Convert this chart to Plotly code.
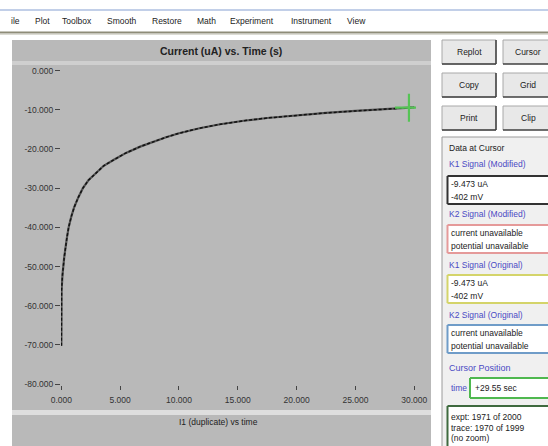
import plotly.graph_objects as go

# ---------------- data ----------------
time_s = [0, 0, 0.02, 0.1, 0.25, 0.48, 0.62, 0.85, 1.1, 1.45, 1.83, 2.3, 2.87, 3.6, 4.5,
          5.0, 5.5, 6.7, 8.0, 8.9, 10.0, 11.75, 13.5, 15.5, 17.5, 20.0, 22.5, 25.0, 27.5, 29.55, 30.0]
current_uA = [-70.2, -63, -56, -52, -47.5, -42.5, -40, -37.2, -34.8, -32.3, -30, -28, -26.3,
              -24.3, -22.7, -21.8, -21.0, -19.4, -17.9, -17.0, -16.0, -14.7, -13.7, -12.8,
              -12.1, -11.4, -10.8, -10.3, -9.85, -9.47, -9.4]
cursor_t = [29.55]
cursor_i = [-9.47]

x_ticks = [0, 5, 10, 15, 20, 25, 30]
x_ticklabels = ["0.000", "5.000", "10.000", "15.000", "20.000", "25.000", "30.000"]
y_ticks = [0, -10, -20, -30, -40, -50, -60, -70, -80]
y_ticklabels = ["0.000", "-10.000", "-20.000", "-30.000", "-40.000", "-50.000",
                "-60.000", "-70.000", "-80.000"]

menu_items = ["ile", "Plot", "Toolbox", "Smooth", "Restore", "Math", "Experiment", "Instrument", "View"]
menu_x = [9, 33, 60, 105, 150, 195, 228, 289, 345]

W, H = 548, 446
FONT = "Liberation Sans, Arial, sans-serif"


def X(p):
    return p / W


def Y(p):
    return 1 - p / H


shapes = []


def rect(x0, y0, x1, y1, fill=None, line=None, lw=0, layer="below"):
    shapes.append(dict(type="rect", xref="paper", yref="paper",
                       x0=X(x0), x1=X(x1), y0=Y(y1), y1=Y(y0),
                       fillcolor=fill if fill else "rgba(0,0,0,0)",
                       line=dict(color=line if line else "rgba(0,0,0,0)", width=lw),
                       layer=layer))


def hline(x0, x1, y, color, lw=1, layer="below"):
    shapes.append(dict(type="line", xref="paper", yref="paper",
                       x0=X(x0), x1=X(x1), y0=Y(y), y1=Y(y),
                       line=dict(color=color, width=lw), layer=layer))


def vline(x, y0, y1, color, lw=1, layer="below"):
    shapes.append(dict(type="line", xref="paper", yref="paper",
                       x0=X(x), x1=X(x), y0=Y(y0), y1=Y(y1),
                       line=dict(color=color, width=lw), layer=layer))


def open_box(x0, y0, y1, color, lw=2, fill="white"):
    """box running off the right edge of the window"""
    rect(x0, y0, W, y1, fill=fill)
    hline(x0, W, y0, color, lw)
    vline(x0, y0, y1, color, lw)
    if y1 < H:
        hline(x0, W, y1, color, lw)


annotations = []


def text(x, y, s, size=9, color="#222", anchor="left", bold=False):
    annotations.append(dict(xref="paper", yref="paper", x=X(x), y=Y(y),
                            text=("<b>%s</b>" % s) if bold else s, showarrow=False,
                            xanchor=anchor, yanchor="middle",
                            font=dict(family=FONT, size=size, color=color)))


# menu bar
hline(0, W, 10, "#aebfe0", 1.5)
hline(0, W, 32.5, "#8e8c78", 2)
hline(0, W, 34.5, "#dcdcd4", 1)
for m, mx in zip(menu_items, menu_x):
    text(mx, 21, m, size=8.5, color="#222")

# chart panel
GRAY = "#b9b9b9"
rect(12, 40, 431, H, fill=GRAY)
rect(12, 61, 431, 65, fill="#cfcfcf")
rect(12, 410, 431, 415, fill="#dedede")
text(221, 51, "Current (uA) vs. Time (s)", size=10.5, color="#222", anchor="center", bold=True)
text(218, 422, "I1 (duplicate) vs time", size=8.5, color="#222", anchor="center")

# right panel buttons
buttons = [("Replot", "Cursor", 40, 64), ("Copy", "Grid", 73, 97), ("Print", "Clip", 106, 130)]
for lab1, lab2, y0, y1 in buttons:
    # left button (fully visible)
    rect(442, y0, 496, y1, fill="#e8e8e8", line="#a8a8a8", lw=1)
    hline(442, 496, y1, "#404040", 1.5)
    vline(496, y0, y1, "#404040", 1.5)
    text(469, (y0 + y1) / 2, lab1, size=8.5, color="#222", anchor="center")
    # right button (runs off the edge)
    rect(503, y0, W, y1, fill="#e8e8e8")
    hline(503, W, y0, "#a8a8a8", 1)
    vline(503, y0, y1, "#a8a8a8", 1)
    hline(503, W, y1, "#404040", 1.5)
    text(528, (y0 + y1) / 2, lab2, size=8.5, color="#222", anchor="center")

# Data at cursor group
rect(442, 137, W, H, fill="#f0f0f0")
hline(442, W, 137, "#9a9a9a", 1)
vline(442, 137, H, "#9a9a9a", 1)
text(447, 148, "Data at Cursor", size=8.5, color="#222")
BLUE = "#4a4ac4"
groups = [
    ("K1 Signal (Modified)", 164, 176, 204, "#333333", ["-9.473 uA", "-402 mV"]),
    ("K2 Signal (Modified)", 214, 225, 253, "#e59a9a", ["current unavailable", "potential unavailable"]),
    ("K1 Signal (Original)", 265, 275, 303, "#d4d46a", ["-9.473 uA", "-402 mV"]),
    ("K2 Signal (Original)", 315, 325, 353, "#6f9cc8", ["current unavailable", "potential unavailable"]),
]
for lab, ly, by0, by1, bc, lines in groups:
    text(447, ly, lab, size=8.5, color=BLUE)
    open_box(447.5, by0, by1, bc, 2)
    text(449, by0 + 8, lines[0], size=8.5, color="#222")
    text(449, by0 + 20.5, lines[1], size=8.5, color="#222")

text(447, 368, "Cursor Position", size=9, color=BLUE)
text(449, 388, "time", size=8.5, color=BLUE)
open_box(470, 378, 398, "#4fb84f", 2)
text(473, 388, "+29.55 sec", size=8.5, color="#222")
open_box(447.5, 406, H, "#3f6a3f", 2)
text(449, 417, "expt: 1971 of 2000", size=8.5, color="#222")
text(449, 427.5, "trace: 1970 of 1999", size=8.5, color="#222")
text(449, 438, "(no zoom)", size=8.5, color="#222")

# ---------------- figure ----------------
fig = go.Figure()
fig.add_trace(go.Scatter(x=time_s, y=current_uA, mode="lines", name="K1 Signal (Original)",
                         line=dict(color="#555555", width=2.2), hoverinfo="skip"))
fig.add_trace(go.Scatter(x=time_s, y=current_uA, mode="lines", name="K1 Signal (Modified)",
                         line=dict(color="#111111", width=1.5, dash="3px,2px"), hoverinfo="skip"))
fig.add_trace(go.Scatter(x=cursor_t, y=cursor_i, mode="markers", name="cursor",
                         marker=dict(symbol="cross-thin", size=20,
                                     line=dict(color="#55c455", width=2.2)),
                         hoverinfo="skip"))

fig.update_layout(
    width=W, height=H, margin=dict(l=0, r=0, t=0, b=0),
    paper_bgcolor="white", plot_bgcolor="white", showlegend=False,
    shapes=shapes, annotations=annotations,
    xaxis=dict(domain=[X(61), X(416)], range=[-0.03, 30.15], tickvals=x_ticks,
               ticktext=x_ticklabels, ticks="outside", ticklen=4, tickcolor="#444",
               tickwidth=1, showgrid=False, zeroline=False, showline=False,
               ticklabelstandoff=3, automargin=False,
               tickfont=dict(family=FONT, size=8.5, color="#333")),
    yaxis=dict(domain=[Y(384.5), Y(70)], range=[-80.1, 0.15], tickvals=y_ticks,
               ticktext=y_ticklabels, ticks="outside", ticklen=5, tickcolor="#444",
               tickwidth=1, showgrid=False, zeroline=False, showline=False,
               automargin=False,
               tickfont=dict(family=FONT, size=8.5, color="#333")),
)

fig.write_html("out.html", config={"displayModeBar": False},
               post_script="document.body.style.margin='0';document.body.style.overflow='hidden';")
